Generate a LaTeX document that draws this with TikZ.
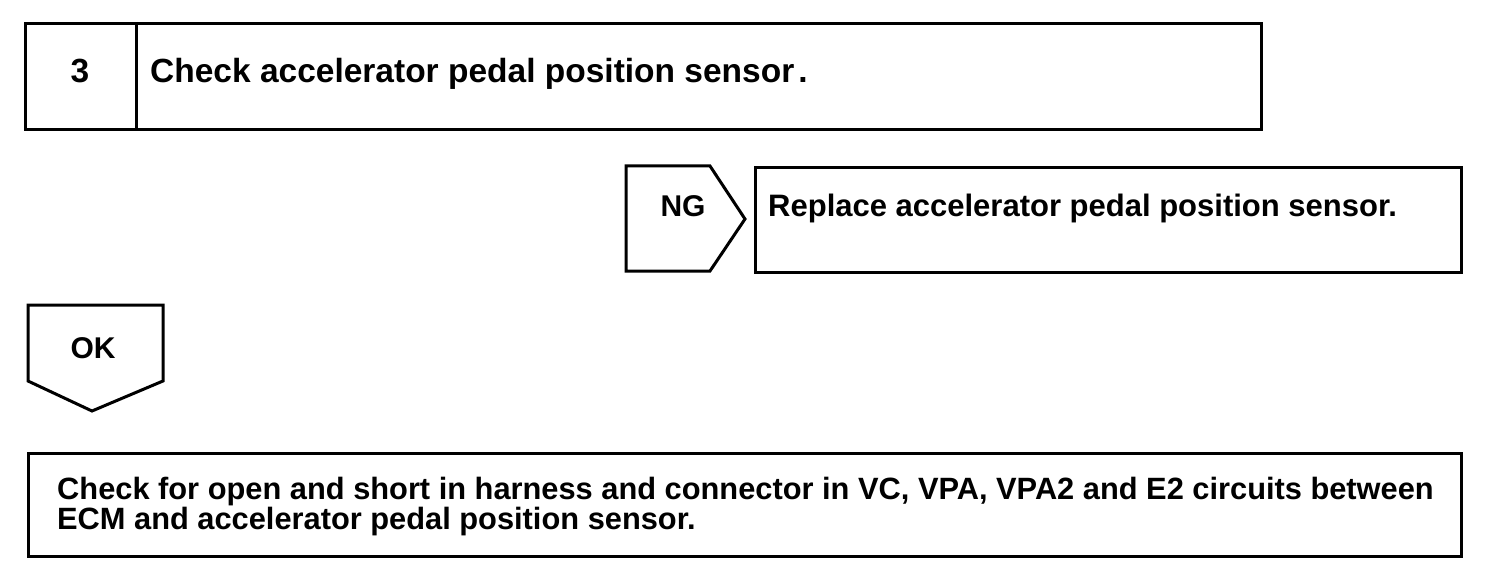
\documentclass[tikz,border=0pt]{standalone}
\usepackage{fontspec}
\setmainfont{Liberation Sans}
\begin{document}
\begin{tikzpicture}[x=1pt,y=-1pt,
  frame/.style={draw=black,line width=3pt,line join=miter},
  lbl/.style={font=\fontsize{31}{29}\selectfont\bfseries,inner sep=0pt,text=black},
  biglbl/.style={lbl,font=\fontsize{33.5}{34}\selectfont\bfseries},
  taglbl/.style={lbl,font=\fontsize{30}{30}\selectfont\bfseries},
  notelbl/.style={lbl,font=\fontsize{30.8}{29.5}\selectfont\bfseries}]
\useasboundingbox (0,0) rectangle (1504,580);
% step 3 box
\node[frame,anchor=north west,minimum width=1236pt,minimum height=106pt,inner sep=0pt] (step) at (24,22) {};
\coordinate (divT) at (136,22);
\coordinate (divB) at (136,128);
\draw[frame] (divT) -- (divB);
\node[biglbl,anchor=base] (num) at (80,83) {3};
\node[biglbl,anchor=base west] (title) at (150,83) {Check accelerator pedal position sensor\hspace{4pt}.};
% NG tag
\draw[frame] (626,166) -- (710,166) -- (745,219) -- (710,271) -- (626,271) -- cycle;
\node[taglbl,anchor=base] (ng) at (683,216) {NG};
\node[frame,anchor=north west,minimum width=706pt,minimum height=105pt,inner sep=0pt] (repl) at (754,166) {};
\node[lbl,anchor=base west] (repltext) at (768,216) {Replace accelerator pedal position sensor.};
% OK tag
\draw[frame] (28,305) -- (163,305) -- (163,381) -- (92,411) -- (28,381) -- cycle;
\node[taglbl,anchor=base] (ok) at (93,358) {OK};
% final box
\node[frame,anchor=north west,minimum width=1433pt,minimum height=103pt,inner sep=0pt] (final) at (27,452) {};
\node[notelbl,anchor=north west,align=left] (finaltext) at (57,477) {Check for open and short in harness and connector in VC, VPA, VPA2 and E2 circuits between\\ECM and accelerator pedal position sensor.};
\end{tikzpicture}
\end{document}
